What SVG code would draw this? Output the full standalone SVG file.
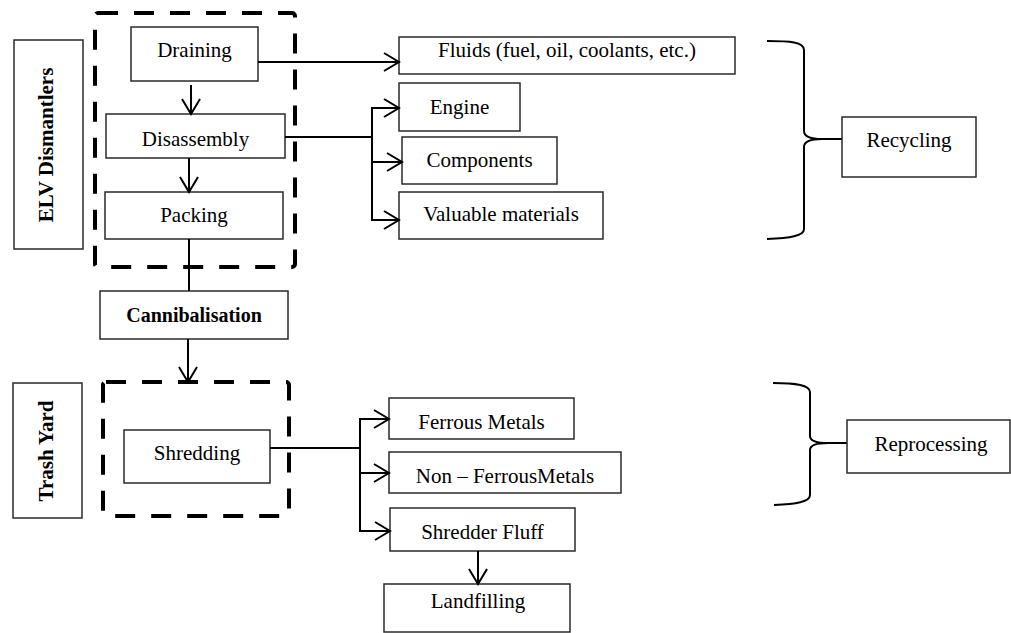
<svg xmlns="http://www.w3.org/2000/svg" width="1011" height="633" viewBox="0 0 1011 633">
<style>
.box{fill:#fff;stroke:#2a2a2a;stroke-width:1.5}
.dash{fill:none;stroke:#000;stroke-width:4;stroke-dasharray:20 16}
.t{font-family:"Liberation Serif","Times New Roman",serif;font-size:21px;fill:#000;text-anchor:middle}
.b{font-weight:bold}
.c{fill:none;stroke:#000;stroke-width:2}
.br{fill:none;stroke:#000;stroke-width:2}
</style>
<defs>
<marker id="ah" markerUnits="userSpaceOnUse" viewBox="-17 -11 19 22" markerWidth="19" markerHeight="22" refX="0" refY="0" orient="auto" overflow="visible">
<path d="M-15,-9 L0,0 L-15,9" fill="none" stroke="#000" stroke-width="2"/>
</marker>
</defs>
<rect x="0" y="0" width="1011" height="633" fill="#fff"/>

<g id="elv-dismantlers">
<rect class="box" x="14" y="40" width="69" height="209"/>
<text class="t b" transform="translate(53,145) rotate(-90)">ELV Dismantlers</text>
</g>
<g id="dismantler-group"><rect class="dash" x="95" y="13" width="200" height="254" rx="3"/></g>
<g id="draining"><rect class="box" x="131" y="27" width="127" height="54"/><text class="t" x="194.5" y="57">Draining</text></g>
<g id="disassembly"><rect class="box" x="106" y="114" width="179" height="44"/><text class="t" x="195.5" y="146">Disassembly</text></g>
<g id="packing"><rect class="box" x="105" y="192" width="178" height="47"/><text class="t" x="194" y="222">Packing</text></g>

<g id="fluids"><rect class="box" x="399" y="37" width="336" height="37"/><text class="t" x="567" y="57">Fluids (fuel, oil, coolants, etc.)</text></g>
<g id="engine"><rect class="box" x="399" y="83" width="121" height="48"/><text class="t" x="459.5" y="114">Engine</text></g>
<g id="components"><rect class="box" x="402" y="137" width="155" height="47"/><text class="t" x="479.5" y="167">Components</text></g>
<g id="valuable"><rect class="box" x="399" y="192" width="204" height="47"/><text class="t" x="501" y="221">Valuable materials</text></g>

<g id="recycling-brace"><path class="br" d="M767,41 C790,41 804,42 804,50 L804,131 C804,137 812,139 822,139 C812,139 804,141 804,147 L804,229 C804,236 790,238 767,239"/><path class="br" d="M818,139 H842" stroke-width="2.5"/></g>
<g id="recycling"><rect class="box" x="842" y="117" width="134" height="60"/><text class="t" x="909" y="147">Recycling</text></g>

<g id="cannibalisation"><rect class="box" x="100" y="291" width="188" height="48"/><text class="t b" x="194" y="322" style="font-size:20px">Cannibalisation</text></g>

<g id="trash-yard">
<rect class="box" x="13" y="383" width="69" height="135"/>
<text class="t b" transform="translate(53,451) rotate(-90)">Trash Yard</text>
</g>
<g id="trash-group"><rect class="dash" x="103" y="382" width="186" height="134" rx="3"/></g>
<g id="shredding"><rect class="box" x="124" y="430" width="146" height="53"/><text class="t" x="197" y="460">Shredding</text></g>

<g id="ferrous"><rect class="box" x="389" y="398" width="185" height="41"/><text class="t" x="481.5" y="429">Ferrous Metals</text></g>
<g id="non-ferrous"><rect class="box" x="389" y="452" width="232" height="41"/><text class="t" x="505" y="483">Non – FerrousMetals</text></g>
<g id="shredder-fluff"><rect class="box" x="390" y="508" width="185" height="43"/><text class="t" x="482.5" y="539">Shredder Fluff</text></g>
<g id="landfilling"><rect class="box" x="384" y="584" width="186" height="48"/><text class="t" x="478" y="608">Landfilling</text></g>

<g id="reprocessing-brace"><path class="br" d="M773,383 C796,383 810,385 810,392 L810,436 C810,441 818,443 828,443 C818,443 810,445 810,450 L810,495 C810,502 796,504 774,505"/><path class="br" d="M824,443 H847" stroke-width="2.5"/></g>
<g id="reprocessing"><rect class="box" x="847" y="420" width="163" height="53"/><text class="t" x="931" y="451">Reprocessing</text></g>

<g id="connectors">
<path class="c" d="M258,62 H399" marker-end="url(#ah)"/>
<path class="c" d="M191,85 V114" marker-end="url(#ah)"/>
<path class="c" d="M189,158 V192" marker-end="url(#ah)"/>
<path class="c" d="M285,137 H372 M372,108 V220"/>
<path class="c" d="M371,108 H399" marker-end="url(#ah)"/>
<path class="c" d="M371,162 H402" marker-end="url(#ah)"/>
<path class="c" d="M371,220 H399" marker-end="url(#ah)"/>
<path class="c" d="M189,239 V291"/>
<path class="c" d="M188,339 V382" marker-end="url(#ah)"/>
<path class="c" d="M270,448 H360 M360,419 V531"/>
<path class="c" d="M359,419 H389" marker-end="url(#ah)"/>
<path class="c" d="M359,473 H389" marker-end="url(#ah)"/>
<path class="c" d="M359,531 H390" marker-end="url(#ah)"/>
<path class="c" d="M478,551 V584" marker-end="url(#ah)"/>
</g>
</svg>
